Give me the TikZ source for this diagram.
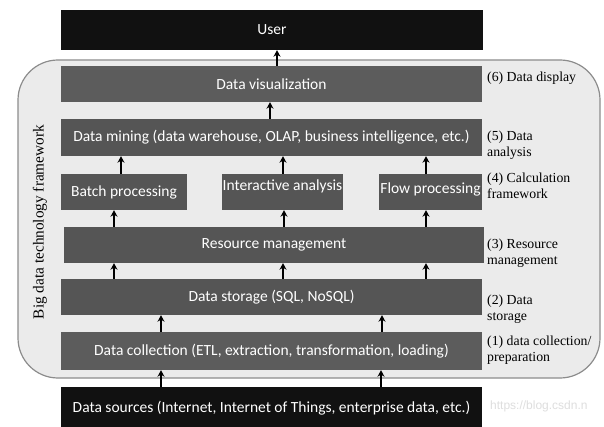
\documentclass[tikz,border=0pt]{standalone}
\usepackage{fontspec}
\setmainfont{Liberation Serif}
\newfontfamily\boxfont{Carlito}
\newfontfamily\wmfont{Liberation Sans}
\usetikzlibrary{arrows.meta}
\definecolor{boxgray}{HTML}{555555}
\definecolor{boxgrayl}{HTML}{5C5C5C}
\definecolor{boxblack}{HTML}{111111}
\definecolor{framefill}{HTML}{EBEBEB}
\definecolor{frameline}{HTML}{8C8C8C}
\begin{document}
\begin{tikzpicture}[x=1pt,y=-1pt,
  box/.style={rectangle, fill=boxgray, text=white, inner sep=0pt,
    font=\boxfont\fontsize{15.5}{18}\selectfont},
  blackbox/.style={box, fill=boxblack},
  lab/.style={anchor=west, align=left, inner sep=0pt,
    font=\fontsize{13.8}{16}\selectfont},
  arr/.style={-{Stealth[length=6.5pt,width=7pt]}, line width=1.9pt, black}]
\useasboundingbox (0,0) rectangle (604,427);
\fill[white] (0,0) rectangle (604,427);
% outer frame
\draw[fill=framefill, draw=frameline, line width=1.2pt, rounded corners=40pt]
  (18,60) rectangle (600,378);
% boxes
\node[blackbox, minimum width=422pt, minimum height=40pt] (user) at (272,30) {User};
\node[box, fill=boxgrayl, minimum width=421pt, minimum height=36pt] (vis) at (271.5,84) {Data visualization};
\node[box, minimum width=421pt, minimum height=37pt] (mining) at (271.5,137.5) {Data mining (data warehouse, OLAP, business intelligence, etc.)};
\node[box, minimum width=126pt, minimum height=36pt] (batch) at (124,192) {Batch processing};
\node[box, minimum width=121pt, minimum height=36pt, text depth=14pt] (inter) at (282.5,192) {Interactive analysis};
\node[box, minimum width=103pt, minimum height=36pt, text depth=7pt] (flow) at (430.5,192) {Flow processing};
\node[box, minimum width=420pt, minimum height=36pt] (res) at (274,245) {Resource management};
\node[box, minimum width=421pt, minimum height=36pt] (stor) at (271.5,297) {Data storage (SQL, NoSQL)};
\node[box, fill=boxgrayl, minimum width=421pt, minimum height=38pt] (coll) at (271.5,351) {Data collection (ETL, extraction, transformation, loading)};
\node[blackbox, minimum width=421pt, minimum height=42pt] (src) at (271.5,408) {Data sources (Internet, Internet of Things, enterprise data, etc.)};
% arrows
\draw[arr] (vis.north -| 277,0) -- (user.south -| 277,0);
\draw[arr] (mining.north -| 270,0) -- (vis.south -| 270,0);
\draw[arr] (batch.north -| 121,0) -- (mining.south -| 121,0);
\draw[arr] (inter.north -| 283,0) -- (mining.south -| 283,0);
\draw[arr] (flow.north -| 426,0) -- (mining.south -| 426,0);
\draw[arr] (res.north -| 114,0) -- (batch.south -| 114,0);
\draw[arr] (res.north -| 284,0) -- (inter.south -| 284,0);
\draw[arr] (res.north -| 426,0) -- (flow.south -| 426,0);
\draw[arr] (stor.north -| 114,0) -- (res.south -| 114,0);
\draw[arr] (stor.north -| 283,0) -- (res.south -| 283,0);
\draw[arr] (stor.north -| 426,0) -- (res.south -| 426,0);
\draw[arr] (coll.north -| 161,0) -- (stor.south -| 161,0);
\draw[arr] (coll.north -| 382,0) -- (stor.south -| 382,0);
\draw[arr] (src.north -| 161,0) -- (coll.south -| 161,0);
\draw[arr] (src.north -| 381,0) -- (coll.south -| 381,0);
% right labels
\node[lab] (l6) at (487,78) {(6) Data display};
\node[lab] (l5) at (487,145) {(5) Data\\analysis};
\node[lab] (l4) at (487,186) {(4) Calculation\\framework};
\node[lab] (l3) at (487,253) {(3) Resource\\management};
\node[lab] (l2) at (487,309) {(2) Data\\storage};
\node[lab] (l1) at (487,350) {(1) data collection/\\preparation};
% vertical label
\node[rotate=90, inner sep=0pt, font=\fontsize{15.3}{17}\selectfont] (vt) at (40,222) {Big data technology framework};
% watermark
\node[anchor=west, inner sep=0pt, text=black!13, font=\wmfont\fontsize{12}{14}\selectfont] (wm) at (490,406) {https://blog.csdn.n};
\end{tikzpicture}
\end{document}
